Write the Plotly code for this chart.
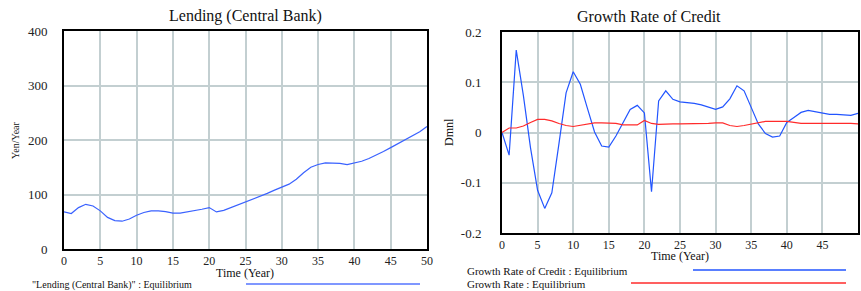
import plotly.graph_objects as go

years = list(range(0, 51))

lending = [68, 65, 76, 82, 79, 70, 58, 52, 51, 55,
           62, 67, 70, 70, 68.5, 66, 66, 68, 70, 73,
           76, 68, 71, 76, 81, 86, 92, 97, 102, 108,
           113, 119, 128, 140, 150, 155, 158, 158, 157, 155,
           158, 161, 166, 172, 179, 186, 193, 200, 207, 215, 225]

credit_growth = [0, -0.045, 0.164, 0.074, -0.03, -0.115, -0.151, -0.12, -0.022, 0.079,
                 0.121, 0.096, 0.048, 0.001, -0.027, -0.029, -0.007, 0.021, 0.046, 0.054,
                 0.039, -0.118, 0.063, 0.083, 0.066, 0.061, 0.06, 0.058, 0.055, 0.05,
                 0.046, 0.051, 0.067, 0.093, 0.083, 0.05, 0.017, -0.002, -0.009, -0.007,
                 0.02, 0.03, 0.04, 0.044, 0.041, 0.038, 0.036, 0.036, 0.035, 0.034, 0.038]

growth_rate = [0, 0.009, 0.009, 0.013, 0.02, 0.026, 0.026, 0.023, 0.018, 0.014,
               0.012, 0.014, 0.017, 0.019, 0.019, 0.019, 0.018, 0.015, 0.015, 0.015,
               0.024, 0.018, 0.016, 0.017, 0.017, 0.017, 0.017, 0.018, 0.018, 0.018,
               0.019, 0.019, 0.014, 0.012, 0.014, 0.017, 0.019, 0.022, 0.022, 0.022,
               0.022, 0.02, 0.018, 0.018, 0.018, 0.018, 0.018, 0.018, 0.019, 0.018, 0.017]

x_ticks = [0, 5, 10, 15, 20, 25, 30, 35, 40, 45, 50]
left_y_ticks = [0, 100, 200, 300, 400]
right_y_ticks = [-0.2, -0.1, 0, 0.1, 0.2]
right_y_labels = ["-0.2", "-0.1", "0", "0.1", "0.2"]

W, H = 861, 291
FONT = "Liberation Serif, Times New Roman, serif"
GRID = "#c3cfd1"
BLUE = "#2255ff"
RED = "#ff2b2b"


def px(x):
    return x / W


def py(y):
    return 1 - y / H


fig = go.Figure()
fig.add_trace(go.Scatter(x=years, y=lending, mode="lines",
                         line=dict(color="#3a62ff", width=1.2),
                         xaxis="x", yaxis="y", showlegend=False))
fig.add_trace(go.Scatter(x=years, y=credit_growth, mode="lines",
                         line=dict(color=BLUE, width=1.2),
                         xaxis="x2", yaxis="y2", showlegend=False))
fig.add_trace(go.Scatter(x=years, y=growth_rate, mode="lines",
                         line=dict(color=RED, width=1.2),
                         xaxis="x2", yaxis="y2", showlegend=False))

axis_common = dict(showgrid=True, gridcolor=GRID, gridwidth=1.5, zeroline=False,
                   showline=True, linecolor="black", linewidth=2, mirror=True,
                   ticks="", ticklen=0, automargin=False,
                   tickfont=dict(family=FONT, size=13, color="#222"))

fig.update_layout(
    width=W, height=H, margin=dict(l=0, r=0, t=0, b=0),
    paper_bgcolor="white", plot_bgcolor="white",
    font=dict(family=FONT, color="#222"),
    xaxis=dict(domain=[px(64), px(427)], range=[0, 50], tickvals=x_ticks,
               anchor="y", **axis_common),
    yaxis=dict(domain=[py(249), py(31)], range=[0, 400], tickvals=left_y_ticks,
               anchor="x", ticklabelstandoff=12, **axis_common),
    xaxis2=dict(domain=[px(502), px(858)], range=[0, 50], tickvals=x_ticks,
                anchor="y2", **axis_common),
    yaxis2=dict(domain=[py(233), py(32)], range=[-0.2, 0.2], tickvals=right_y_ticks,
                ticktext=right_y_labels, anchor="x2", ticklabelstandoff=16,
                **axis_common),
)
fig.update_xaxes(tickfont=dict(size=12))


def txt(text, x, y, size, anchor="center", angle=0):
    return dict(text=text, x=px(x), y=py(y), xref="paper", yref="paper",
                showarrow=False, textangle=angle,
                font=dict(family=FONT, size=size, color="#111"),
                xanchor=anchor, yanchor="middle")


annotations = [
    txt("Lending (Central Bank)", 245, 16, 16),
    txt("Growth Rate of Credit", 649, 16, 16),
    txt("Time (Year)", 245, 273, 12),
    txt("Time (Year)", 680, 256, 12),
    txt("Yen/Year", 15, 140, 10, angle=-90),
    txt("Dmnl", 449, 132, 12, angle=-90),
    txt("\"Lending (Central Bank)\" : Equilibrium", 30, 285, 10, anchor="left"),
    txt("Growth Rate of Credit : Equilibrium", 465, 271, 11, anchor="left"),
    txt("Growth Rate : Equilibrium", 465, 284, 11, anchor="left"),
]
fig.update_layout(annotations=annotations)

shapes = [
    dict(type="line", xref="paper", yref="paper", x0=px(246), x1=px(420),
         y0=py(284), y1=py(284), line=dict(color="#7f97ff", width=2)),
    dict(type="line", xref="paper", yref="paper", x0=px(693), x1=px(846),
         y0=py(270), y1=py(270), line=dict(color=BLUE, width=1.3)),
    dict(type="line", xref="paper", yref="paper", x0=px(631), x1=px(846),
         y0=py(283), y1=py(283), line=dict(color="#ff6060", width=1.8)),
]
fig.update_layout(shapes=shapes)

fig.write_html(
    "out.html",
    config={"displayModeBar": False},
    post_script="document.body.style.margin='0';document.body.style.overflow='hidden';",
)
